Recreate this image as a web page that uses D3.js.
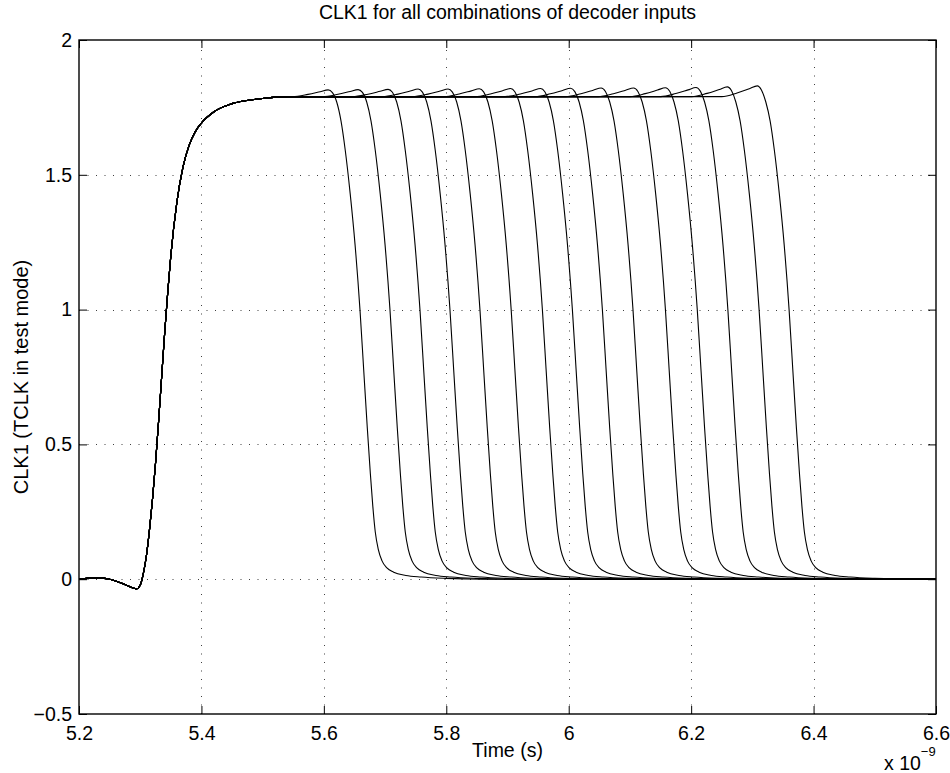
<!DOCTYPE html>
<html>
<head>
<meta charset="utf-8">
<script src="https://cdn.jsdelivr.net/npm/d3@7"></script>
<style>
  body { margin: 0; background: #fff; }
  svg text { font-family: "Liberation Sans", Arial, Helvetica, sans-serif; fill: #000; }
</style>
</head>
<body>
<div id="chart"></div>
<script>
// Axis ticks
const xTicks = [5.2, 5.4, 5.6, 5.8, 6.0, 6.2, 6.4, 6.6];
const xTickLabels = ["5.2", "5.4", "5.6", "5.8", "6", "6.2", "6.4", "6.6"];
const yTicks = [-0.5, 0, 0.5, 1, 1.5, 2];
const yTickLabels = ["\u22120.5", "0", "0.5", "1", "1.5", "2"];

// Shared rising edge (time in ns, volts)
const riseT = [5.20, 5.23, 5.25, 5.27, 5.285, 5.294, 5.300, 5.305, 5.310, 5.315, 5.320, 5.325, 5.330,
  5.335, 5.340, 5.345, 5.350, 5.360, 5.370, 5.380, 5.390, 5.400, 5.420, 5.450, 5.500, 5.540];
const riseV = [0.000, 0.005, 0.000, -0.015, -0.030, -0.036, -0.022, 0.020, 0.085, 0.180, 0.295, 0.430, 0.585,
  0.750, 0.915, 1.065, 1.200, 1.400, 1.530, 1.610, 1.660, 1.692, 1.733, 1.764, 1.783, 1.790];

// Time where each falling edge crosses 1 V (ns)
const edgeTimes = [5.659, 5.708, 5.757, 5.806, 5.855, 5.906, 5.957, 6.006, 6.055, 6.105, 6.158, 6.210, 6.260, 6.311, 6.360];
// Overshoot peak of each curve before falling (V)
const peakV = [1.815, 1.816, 1.817, 1.818, 1.818, 1.819, 1.820, 1.820, 1.821, 1.822, 1.822, 1.823, 1.824, 1.826, 1.830];

// Falling edge shape relative to the 1 V crossing
const fallDt = [-0.110, -0.085, -0.065, -0.052, -0.045, -0.038, -0.031, -0.024, -0.016, -0.008, 0.000,
  0.006, 0.012, 0.017, 0.021, 0.025, 0.030, 0.036, 0.044, 0.055, 0.075, 0.100, 0.140, 0.200];
const fallV = [1.790, 1.800, 1.812, 1.820, 1.808, 1.770, 1.700, 1.590, 1.430, 1.240, 1.000,
  0.780, 0.560, 0.390, 0.270, 0.175, 0.110, 0.068, 0.042, 0.026, 0.014, 0.008, 0.003, 0.000];

const W = 950, H = 773;
const M = { left: 79, right: 936, top: 40, bottom: 714 };

const svg = d3.select("#chart").append("svg")
  .attr("width", W)
  .attr("height", H);

const x = d3.scaleLinear().domain([5.2, 6.6]).range([M.left, M.right]);
const y = d3.scaleLinear().domain([-0.5, 2]).range([M.bottom, M.top]);

// Dotted grid
const grid = svg.append("g")
  .attr("stroke", "#000")
  .attr("stroke-opacity", 0.75)
  .attr("stroke-width", 1)
  .attr("stroke-dasharray", "1 7.5");

grid.selectAll(".gx")
  .data(xTicks.slice(1, -1))
  .enter().append("line")
  .attr("x1", d => Math.round(x(d)) + 0.5)
  .attr("x2", d => Math.round(x(d)) + 0.5)
  .attr("y1", M.bottom)
  .attr("y2", M.top);

grid.selectAll(".gy")
  .data(yTicks.slice(1, -1))
  .enter().append("line")
  .attr("y1", d => Math.round(y(d)) + 0.5)
  .attr("y2", d => Math.round(y(d)) + 0.5)
  .attr("x1", M.left)
  .attr("x2", M.right);

// Build curves: shared rise, then each curve's own overshoot and fall
const curves = edgeTimes.map((tc, i) => {
  const pts = [];
  const start = tc + fallDt[0];
  riseT.forEach((t, j) => { if (t < start - 0.005) pts.push([t, riseV[j]]); });
  const k = (peakV[i] - 1.79) / (1.82 - 1.79);
  fallDt.forEach((dt, j) => {
    let v = fallV[j];
    if (dt < -0.038 && v > 1.79) v = 1.79 + (v - 1.79) * k;
    pts.push([tc + dt, v]);
  });
  pts.push([6.6, 0]);
  return pts;
});

const line = d3.line()
  .x(d => x(d[0]))
  .y(d => y(d[1]))
  .curve(d3.curveMonotoneX);

svg.append("g")
  .selectAll("path")
  .data(curves)
  .enter().append("path")
  .attr("d", line)
  .attr("fill", "none")
  .attr("stroke", "#000")
  .attr("stroke-width", 1.1);

// Axes box with inward ticks
const axisColor = "#000";
svg.append("rect")
  .attr("x", M.left)
  .attr("y", M.top)
  .attr("width", M.right - M.left)
  .attr("height", M.bottom - M.top)
  .attr("fill", "none")
  .attr("stroke", axisColor)
  .attr("stroke-width", 1.4);

const tickLen = 8;
const axisBottom = d3.axisBottom(x).tickValues(xTicks).tickSize(-tickLen).tickPadding(12)
  .tickFormat((d, i) => xTickLabels[i]);
const axisTop = d3.axisTop(x).tickValues(xTicks).tickSize(-tickLen).tickFormat("");
const axisLeft = d3.axisLeft(y).tickValues(yTicks).tickSize(-tickLen).tickPadding(7)
  .tickFormat((d, i) => yTickLabels[i]);
const axisRight = d3.axisRight(y).tickValues(yTicks).tickSize(-tickLen).tickFormat("");

function styleAxis(g) {
  g.select(".domain").remove();
  g.selectAll("line").attr("stroke", axisColor);
  g.selectAll("text")
    .attr("font-family", "'Liberation Sans', Arial, Helvetica, sans-serif")
    .attr("font-size", 19.5)
    .attr("fill", "#000");
}

svg.append("g").attr("transform", `translate(0,${M.bottom})`).call(axisBottom).call(styleAxis);
svg.append("g").attr("transform", `translate(0,${M.top})`).call(axisTop).call(styleAxis);
svg.append("g").attr("transform", `translate(${M.left},0)`).call(axisLeft).call(styleAxis);
svg.append("g").attr("transform", `translate(${M.right},0)`).call(axisRight).call(styleAxis);

// Title and labels
svg.append("text")
  .attr("x", (M.left + M.right) / 2)
  .attr("y", 19)
  .attr("text-anchor", "middle")
  .attr("font-size", 19.5)
  .text("CLK1 for all combinations of decoder inputs");

svg.append("text")
  .attr("x", (M.left + M.right) / 2)
  .attr("y", 757)
  .attr("text-anchor", "middle")
  .attr("font-size", 19.5)
  .text("Time (s)");

svg.append("text")
  .attr("transform", `translate(28,${(M.top + M.bottom) / 2}) rotate(-90)`)
  .attr("text-anchor", "middle")
  .attr("font-size", 20)
  .text("CLK1 (TCLK in test mode)");

const expo = svg.append("text")
  .attr("x", 884)
  .attr("y", 770)
  .attr("font-size", 19.5);
expo.append("tspan").text("x 10");
expo.append("tspan").attr("dy", -14).attr("font-size", 13).text("\u22129");
</script>
</body>
</html>
